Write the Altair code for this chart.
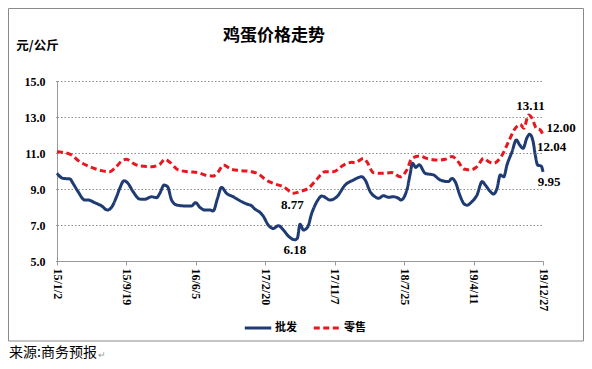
import altair as alt
import pandas as pd

# ---------------- data ----------------
START = "2015-01-02"
tick_dates = [(2015, 1, 2), (2015, 9, 19), (2016, 6, 5), (2017, 2, 20),
              (2017, 11, 7), (2018, 7, 25), (2019, 4, 11), (2019, 12, 27)]

series_names = ["批发", "零售"]

# retail (零售): days after 2015-01-02, price 元/公斤
retail_days = [0, 48, 85, 129, 167, 198, 216, 248, 260, 285,
               310, 354, 385, 404, 423, 454, 491, 529, 554, 585,
               604, 623, 654, 692, 729, 760, 779, 816, 848, 885,
               917, 941, 973, 1004, 1035, 1073, 1104, 1116, 1148, 1160,
               1185, 1217, 1254, 1285, 1310, 1329, 1360, 1385, 1429, 1454,
               1479, 1504, 1523, 1548, 1573, 1598, 1616, 1635, 1667, 1691,
               1716, 1735, 1748, 1766, 1779, 1795, 1810, 1820]
retail_vals = [11.07, 10.94, 10.52, 10.20, 10.02, 9.96, 10.15, 10.61, 10.65, 10.43,
               10.28, 10.24, 10.37, 10.65, 10.48, 10.06, 9.96, 9.91, 9.78, 9.72,
               9.96, 10.33, 10.09, 10.02, 9.96, 9.78, 9.54, 9.28, 9.13, 8.77,
               8.89, 9.04, 9.54, 9.96, 9.96, 10.33, 10.48, 10.46, 10.70, 10.52,
               9.91, 9.87, 9.91, 9.68, 10.06, 10.70, 10.83, 10.70, 10.61, 10.65,
               10.80, 10.48, 10.11, 10.06, 10.24, 10.70, 10.52, 10.43, 10.89, 11.63,
               12.37, 12.59, 12.37, 13.11, 12.93, 12.37, 12.28, 12.00]

# wholesale (批发)
whole_days = [0, 23, 48, 60, 79, 104, 116, 141, 167, 189,
              204, 223, 235, 251, 266, 285, 310, 329, 354, 373,
              385, 401, 414, 429, 448, 479, 504, 519, 535, 554,
              573, 585, 601, 616, 635, 660, 685, 710, 729, 740,
              760, 772, 791, 810, 829, 848, 866, 891, 900, 910,
              923, 938, 954, 973, 992, 1023, 1048, 1079, 1110, 1141,
              1154, 1173, 1191, 1204, 1223, 1241, 1260, 1279, 1288, 1310,
              1323, 1331, 1344, 1356, 1379, 1410, 1435, 1466, 1479, 1491,
              1510, 1523, 1535, 1554, 1573, 1592, 1604, 1623, 1635, 1648,
              1660, 1673, 1685, 1704, 1720, 1733, 1745, 1760, 1770, 1783,
              1791, 1800, 1813, 1820]
whole_vals = [9.87, 9.59, 9.56, 9.31, 8.85, 8.39, 8.39, 8.24, 8.06, 7.83,
              7.98, 8.57, 9.04, 9.46, 9.31, 8.85, 8.44, 8.43, 8.57, 8.52,
              8.76, 9.22, 9.13, 8.39, 8.11, 8.06, 8.06, 8.24, 7.98, 7.83,
              7.83, 7.78, 8.48, 9.09, 8.76, 8.57, 8.35, 8.17, 8.06, 7.90,
              7.70, 7.50, 7.00, 6.81, 6.96, 6.72, 6.39, 6.18, 6.26, 7.04,
              6.72, 6.87, 7.65, 8.29, 8.61, 8.39, 8.57, 9.22, 9.50, 9.68,
              9.50, 8.85, 8.57, 8.48, 8.63, 8.54, 8.57, 8.48, 8.39, 8.94,
              9.87, 10.43, 10.20, 10.35, 9.87, 9.78, 9.50, 9.41, 9.59, 9.41,
              8.60, 8.20, 8.10, 8.30, 8.67, 9.41, 9.22, 8.85, 8.72, 9.04,
              9.78, 9.68, 10.33, 11.07, 11.72, 11.44, 11.26, 11.85, 12.04, 11.63,
              10.89, 10.33, 10.28, 9.95]

# annotations: label text, the data point it belongs to
ann_labels = ["8.77", "6.18", "13.11", "12.00", "12.04", "9.95"]
ann_days = [885, 891, 1766, 1820, 1770, 1820]
ann_vals = [8.77, 6.18, 13.11, 12.00, 12.04, 9.95]

y_ticks = [5, 7, 9, 11, 13, 15]

# ---------------- build tables ----------------
def to_dates(days):
    base = pd.Timestamp(START)
    return [(base + pd.to_timedelta(d, unit="D")).strftime("%Y-%m-%dT00:00:00") for d in days]

df = pd.concat([
    pd.DataFrame({"date": to_dates(whole_days), "price": whole_vals, "series": series_names[0]}),
    pd.DataFrame({"date": to_dates(retail_days), "price": retail_vals, "series": series_names[1]}),
], ignore_index=True)

ann_df = pd.DataFrame({"date": to_dates(ann_days), "price": ann_vals, "label": ann_labels})

BLUE = "#1f3b73"
RED = "#e8161e"
GRID = "#8c8c8c"
CJK = "Noto Sans CJK SC"
SERIF = "Liberation Serif"

x_scale = alt.Scale(domain=[alt.DateTime(year=2015, month=1, date=2),
                            alt.DateTime(year=2019, month=12, date=27)], nice=False)
y_scale = alt.Scale(domain=[5, 15], nice=False, zero=False)

x_enc = alt.X("date:T", scale=x_scale, title=None,
              axis=alt.Axis(values=[alt.DateTime(year=a, month=b, date=c) for a, b, c in tick_dates],
                            format="%y/%-m/%-d", labelAngle=90, grid=False,
                            tickSize=4, labelPadding=3, labelOverlap=False))
y_enc = alt.Y("price:Q", scale=y_scale, title=None,
              axis=alt.Axis(values=y_ticks, format=".1f", grid=True, gridDash=[1.5, 2],
                            gridColor=GRID, tickSize=3, tickDash=[1.5, 2], labelPadding=9,
                            labelOverlap=False, tickCount=6))

lines = alt.Chart(df).mark_line(strokeWidth=3, interpolate="monotone", strokeJoin="round").encode(
    x=x_enc,
    y=y_enc,
    color=alt.Color("series:N", scale=alt.Scale(domain=series_names, range=[BLUE, RED]),
                    title=None, sort=series_names),
    strokeDash=alt.StrokeDash("series:N", scale=alt.Scale(domain=series_names, range=[[1, 0], [6, 3.5]]),
                              title=None, sort=series_names),
)

offsets = {"8.77": (-1, 12), "6.18": (0, 10.5), "13.11": (2, -9.5),
           "12.00": (18, -7), "12.04": (22, 12.5), "9.95": (6, 10)}
ann_layers = []
for lab in ann_labels:
    dx, dy = offsets[lab]
    ann_layers.append(
        alt.Chart(ann_df[ann_df["label"] == lab]).mark_text(
            font=SERIF, fontWeight="bold", fontSize=13, color="black",
            dx=dx, dy=dy, align="center", baseline="middle").encode(
            x=alt.X("date:T", scale=x_scale), y=alt.Y("price:Q", scale=y_scale), text="label:N")
    )

one = pd.DataFrame({"k": [0]})
border = alt.Chart(one).mark_rect(fillOpacity=0, stroke="#8a8a8a", strokeWidth=1).encode(
    x=alt.value(-48.5), x2=alt.value(526.5), y=alt.value(-72.5), y2=alt.value(260))

title = alt.Chart(one).mark_text(font=CJK, fontWeight="bold", fontSize=17, color="black",
                                 align="center", baseline="middle").encode(
    x=alt.value(217), y=alt.value(-45), text=alt.value("鸡蛋价格走势"))
unit = alt.Chart(one).mark_text(font=CJK, fontWeight="bold", fontSize=12.5, color="black",
                                align="center", baseline="middle").encode(
    x=alt.value(-19.5), y=alt.value(-35), text=alt.value("元/公斤"))
footer = alt.Chart(one).mark_text(font=CJK, fontSize=14, color="black",
                                  align="left", baseline="middle").encode(
    x=alt.value(-48), y=alt.value(272), text=alt.value("来源:商务预报"))
footer_mark = alt.Chart(one).mark_text(font=CJK, fontSize=9, color="#999999",
                                       align="left", baseline="middle").encode(
    x=alt.value(41), y=alt.value(274), text=alt.value("↵"))

chart = alt.layer(border, lines, *ann_layers, title, unit, footer, footer_mark).properties(
    width=486, height=180,
    autosize=alt.AutoSizeParams(type="none"),
    padding={"left": 49, "top": 73, "right": 41, "bottom": 100},
    background="white",
).configure_view(stroke=None).configure_axis(
    domainColor="#999999", tickColor="#999999", labelColor="black",
    labelFont=SERIF, labelFontWeight="bold", labelFontSize=12,
).configure_legend(
    orient="none", legendX=186, legendY=232, direction="horizontal",
    symbolType="stroke", symbolSize=700, symbolStrokeWidth=3,
    labelFont=CJK, labelFontWeight="bold", labelFontSize=11, labelColor="black",
    labelOffset=2, columnPadding=10, padding=0,
)

chart.save("out.html", embed_options={"renderer": "svg", "actions": False})
